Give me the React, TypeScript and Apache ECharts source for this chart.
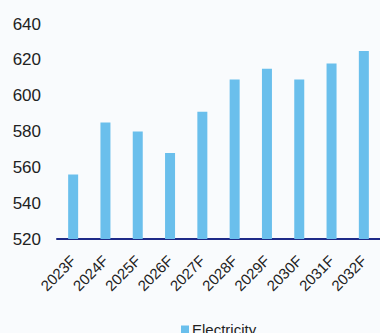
import React, { useEffect, useRef } from "react";
import * as echarts from "echarts";

const categories = ["2023F", "2024F", "2025F", "2026F", "2027F", "2028F", "2029F", "2030F", "2031F", "2032F"];
const electricity = [556, 585, 580, 568, 591, 609, 615, 609, 618, 625];
const yTicks = { min: 520, max: 640, interval: 20 };
const seriesName = "Electricity";

export default function App() {
  const ref = useRef<HTMLDivElement>(null);

  useEffect(() => {
    if (!ref.current) return;
    const chart = echarts.init(ref.current, null, { renderer: "svg" });
    chart.setOption({
      animation: false,
      backgroundColor: "#f9fbfd",
      textStyle: { fontFamily: "'Liberation Sans', Arial, sans-serif" },
      grid: { left: 57, right: -4, top: 24, bottom: 94, containLabel: false },
      legend: {
        data: [seriesName],
        left: 176,
        top: 317,
        itemWidth: 8,
        itemHeight: 8,
        itemGap: 4,
        icon: "rect",
        textStyle: { fontSize: 15, color: "#222", padding: [0, 0, 0, -2] },
      },
      xAxis: {
        type: "category",
        data: categories,
        axisLine: { show: true, lineStyle: { color: "#1e2a88", width: 2 } },
        axisTick: { show: false },
        axisLabel: { rotate: 45, fontSize: 15, color: "#222", margin: 19, interval: 0 },
      },
      yAxis: {
        type: "value",
        min: yTicks.min,
        max: yTicks.max,
        interval: yTicks.interval,
        splitLine: { show: false },
        axisLine: { show: false },
        axisTick: { show: false },
        axisLabel: { fontSize: 17, color: "#222", margin: 16 },
      },
      series: [
        {
          name: seriesName,
          type: "bar",
          data: electricity,
          barWidth: 10,
          itemStyle: { color: "#6abfec" },
        },
      ],
    });
    return () => chart.dispose();
  }, []);

  return (
    <div
      ref={ref}
      style={{ position: "fixed", left: 0, top: 0, width: 380, height: 333 }}
    />
  );
}
